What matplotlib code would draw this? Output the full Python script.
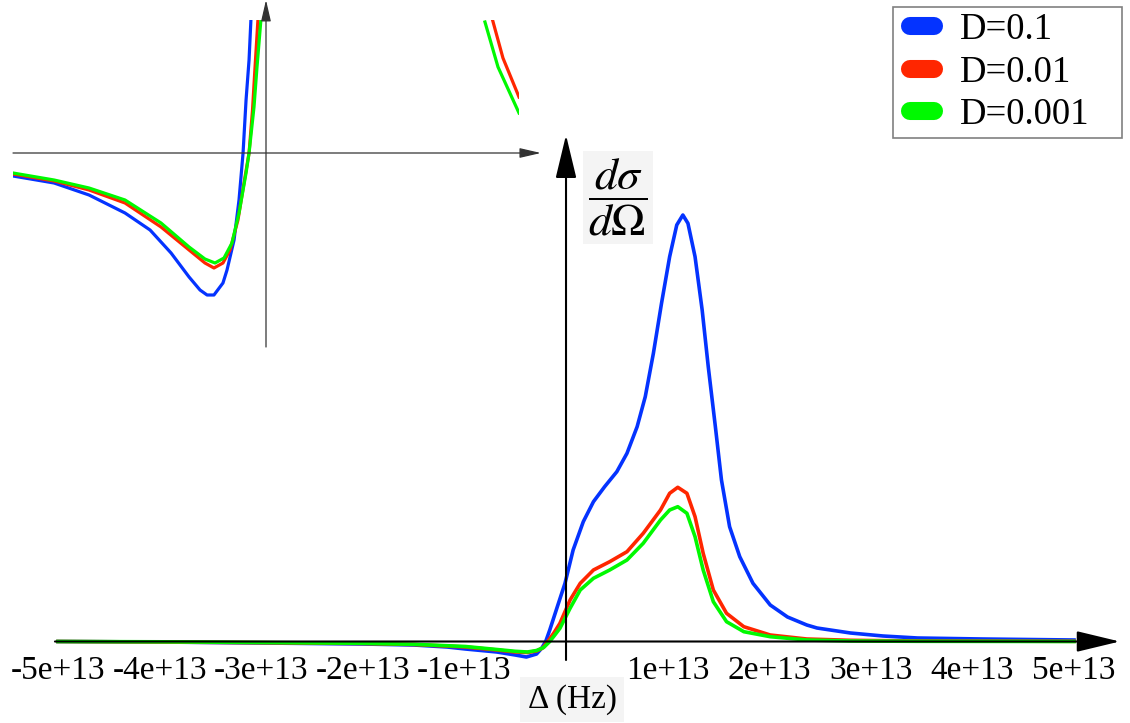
import numpy as np
import matplotlib.pyplot as plt
from matplotlib.lines import Line2D
from matplotlib.legend_handler import HandlerLine2D

plt.rcParams['font.family'] = 'Liberation Serif'
plt.rcParams['mathtext.fontset'] = 'stix'

# detuning (units of 1e13 Hz) and cross section (arb. units)
x_d1 = [-5.0, -4.0, -2.99, -2.0, -1.5, -1.17, -0.99, -0.68, -0.5, -0.39, -0.29,
        -0.24, -0.2, -0.16, -0.08, -0.01, 0.07, 0.17, 0.27, 0.38, 0.5, 0.6, 0.7,
        0.78, 0.86, 0.94, 1.02, 1.09, 1.15, 1.2, 1.27, 1.34, 1.4, 1.47, 1.53,
        1.61, 1.71, 1.84, 2.01, 2.18, 2.37, 2.47, 2.8, 3.12, 3.46, 4.1, 5.0]
y_d1 = [0.0, -0.005, -0.015, -0.025, -0.035, -0.055, -0.075, -0.105, -0.135,
        -0.155, -0.125, -0.068, 0.0, 0.115, 0.365, 0.582, 0.915, 1.198, 1.398,
        1.548, 1.698, 1.882, 2.148, 2.448, 2.882, 3.382, 3.848, 4.165, 4.265,
        4.182, 3.848, 3.315, 2.748, 2.148, 1.615, 1.148, 0.848, 0.582, 0.365,
        0.245, 0.165, 0.135, 0.085, 0.055, 0.035, 0.025, 0.015]

x_d01 = [-5.0, -4.0, -2.99, -2.0, -1.5, -0.99, -0.68, -0.5, -0.38, -0.29, -0.23,
         -0.18, -0.12, -0.06, 0.04, 0.14, 0.27, 0.43, 0.6, 0.76, 0.93, 1.02,
         1.1, 1.19, 1.27, 1.35, 1.45, 1.58, 1.75, 2.01, 2.37, 2.8, 3.46, 5.0]
y_d01 = [0.0, -0.005, -0.012, -0.02, -0.03, -0.055, -0.085, -0.105, -0.11,
         -0.095, -0.065, 0.0, 0.085, 0.182, 0.415, 0.582, 0.715, 0.798, 0.898,
         1.082, 1.315, 1.482, 1.542, 1.482, 1.248, 0.882, 0.515, 0.282, 0.148,
         0.065, 0.025, 0.012, 0.005, 0.002]

x_d001 = [-5.0, -4.0, -2.99, -2.0, -1.5, -0.99, -0.68, -0.5, -0.38, -0.29, -0.22,
          -0.16, -0.11, -0.06, 0.04, 0.14, 0.27, 0.43, 0.6, 0.76, 0.93, 1.02,
          1.1, 1.19, 1.27, 1.35, 1.45, 1.58, 1.75, 2.01, 2.37, 2.8, 3.46, 5.0]
y_d001 = [0.0, -0.003, -0.01, -0.018, -0.028, -0.05, -0.08, -0.098, -0.105,
          -0.09, -0.06, 0.0, 0.065, 0.132, 0.332, 0.515, 0.632, 0.715, 0.815,
          0.982, 1.215, 1.315, 1.348, 1.282, 1.048, 0.715, 0.398, 0.198, 0.098,
          0.048, 0.015, 0.005, 0.002, 0.0]

# zoomed view of the dip (own axes units)
zx_d1 = [-1.687, -1.413, -1.18, -0.94, -0.773, -0.633, -0.513, -0.44, -0.393,
         -0.347, -0.287, -0.26, -0.213, -0.18, -0.153, -0.133, -0.113, -0.10]
zy_d1 = [-0.023, -0.030, -0.042, -0.060, -0.077, -0.100, -0.124, -0.137, -0.142,
         -0.142, -0.130, -0.117, -0.087, -0.047, 0.0, 0.053, 0.093, 0.135]
zx_d01 = [-1.687, -1.413, -1.18, -0.94, -0.70, -0.513, -0.407, -0.347, -0.287,
          -0.24, -0.187, -0.14, -0.113, -0.09, -0.073, -0.053, np.nan,
          1.507, 1.58, 1.687]
zy_d01 = [-0.021, -0.028, -0.037, -0.050, -0.074, -0.097, -0.110, -0.115, -0.110,
          -0.097, -0.067, -0.024, 0.0, 0.043, 0.086, 0.135, np.nan,
          0.135, 0.095, 0.056]
zx_d001 = [-1.687, -1.413, -1.18, -0.94, -0.70, -0.513, -0.407, -0.34, -0.28,
           -0.227, -0.18, -0.133, -0.113, -0.08, -0.06, -0.033, np.nan,
           1.46, 1.547, 1.687]
zy_d001 = [-0.020, -0.027, -0.035, -0.047, -0.070, -0.094, -0.106, -0.110, -0.105,
           -0.090, -0.060, -0.020, 0.0, 0.046, 0.086, 0.135, np.nan,
           0.131, 0.086, 0.040]

labels = ['D=0.1', 'D=0.01', 'D=0.001']
colors = ['#0433FF', '#FF2600', '#00F900']
ticks = [-5, -4, -3, -2, -1, 1, 2, 3, 4, 5]

fig = plt.figure(figsize=(11.3, 7.23), dpi=100)
ax = fig.add_axes([0, 0, 1, 1])
ax.set_xlim(-5.571, 5.551)
ax.set_ylim(-0.815, 6.415)
ax.axis('off')

for xs, ys, c in zip([x_d1, x_d01, x_d001], [y_d1, y_d01, y_d001], colors):
    ax.plot(xs, ys, color=c, lw=2.6, solid_joinstyle='round')

big_head = dict(arrowstyle='-|>,head_length=2.7,head_width=0.65', mutation_scale=10,
                lw=1.5, color='black', shrinkA=0, shrinkB=0)
ax.annotate('', xy=(5.45, 0), xytext=(-5.03, 0), arrowprops=big_head)
ax.annotate('', xy=(0, 5.065), xytext=(0, -0.185), arrowprops=big_head)

for t in ticks:
    ax.text(t, -0.29, f'{t}e+13', fontsize=24, ha='center', va='center')

ax.text(0.06, -0.58, 'Δ (Hz)', fontsize=24, ha='center', va='center',
        bbox=dict(boxstyle='square,pad=0.22', fc='#f4f4f4', ec='none'))
ax.text(0.51, 4.44, r'$\dfrac{d\sigma}{d\Omega}$', fontsize=33, ha='center',
        va='center', bbox=dict(boxstyle='square,pad=0.12', fc='#f4f4f4', ec='none'))

handles = [Line2D([], [], color=c, lw=13, solid_capstyle='round') for c in colors]
leg = ax.legend(handles, labels, loc='upper left', mode='expand',
                bbox_to_anchor=(893 / 1130, 1 - 135 / 723, 229 / 1130, 128 / 723),
                bbox_transform=fig.transFigure,
                handler_map={Line2D: HandlerLine2D(xpad=0.31)},
                prop={'family': 'Liberation Serif', 'size': 26.5}, frameon=True,
                fancybox=False, edgecolor='#808080', framealpha=1,
                handlelength=0.965, handletextpad=0.71, labelspacing=0.22,
                borderpad=0.15, borderaxespad=0)
leg.get_frame().set_linewidth(1.2)

# inset: zoom on the dip
ins = fig.add_axes([13 / 1130, 1 - 347 / 723, 506 / 1130, 327 / 723])
ins.set_xlim(-1.687, 1.687)
ins.set_ylim(-0.194, 0.133)
ins.axis('off')
for zx, zy, c in zip([zx_d1, zx_d01, zx_d001], [zy_d1, zy_d01, zy_d001], colors):
    ins.plot(zx, zy, color=c, lw=2.3, solid_joinstyle='round')

small_head = dict(arrowstyle='-|>,head_length=1.3,head_width=0.3', mutation_scale=10,
                  lw=0.9, color='#333333', shrinkA=0, shrinkB=0)
ins.annotate('', xy=(1.833, 0), xytext=(-1.687, 0), arrowprops=small_head,
             annotation_clip=False, clip_on=False)
ins.annotate('', xy=(0, 0.153), xytext=(0, -0.194), arrowprops=small_head,
             annotation_clip=False, clip_on=False)

fig.savefig('out.png', dpi=100)
